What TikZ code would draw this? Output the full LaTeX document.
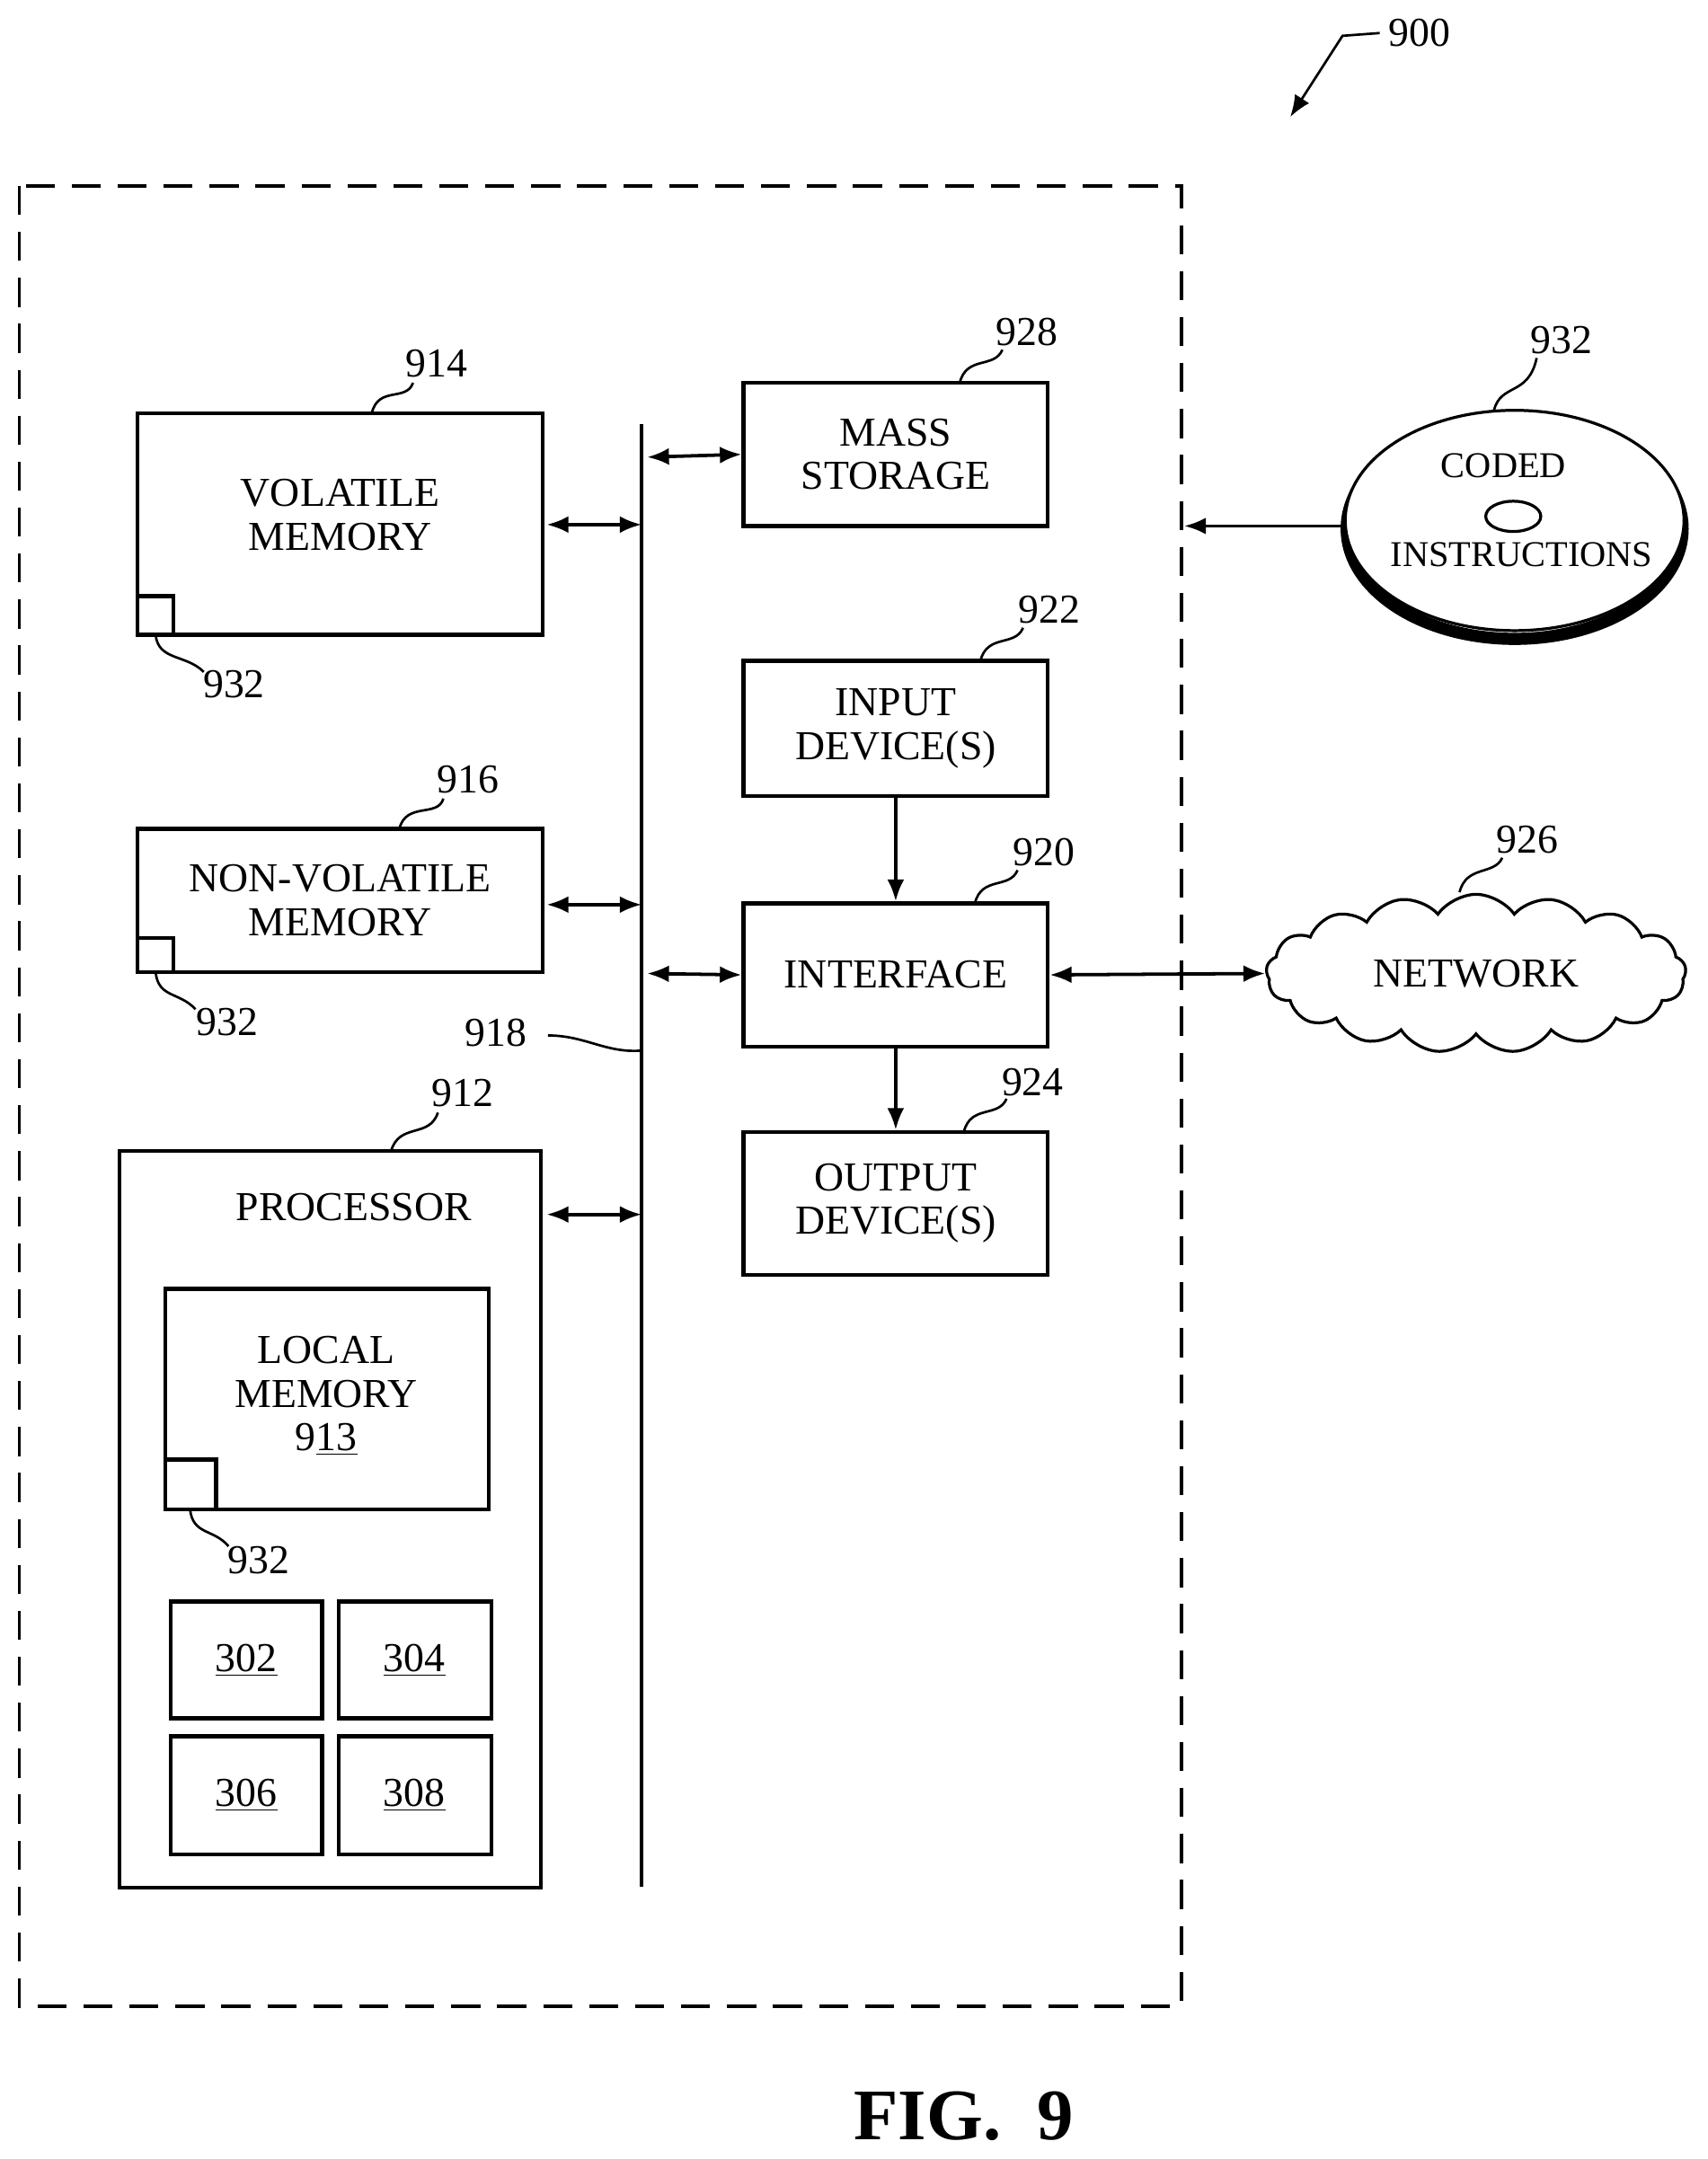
\documentclass[tikz,border=0pt]{standalone}
\usepackage{fontspec}
\setmainfont{Liberation Serif}
\usetikzlibrary{arrows.meta,shapes.symbols,shapes.geometric}
\begin{document}
\begin{tikzpicture}[x=0.02cm,y=-0.02cm,line width=1.4pt,
  >={Latex[length=9pt,width=7pt]},
  every node/.style={font=\fontsize{17}{20}\selectfont,align=center},
  box/.style={draw,line width=1.6pt},
  lbl/.style={inner sep=1pt},
  lead/.style={line width=1pt}]
\useasboundingbox (0,0) rectangle (1240,1568);
% outer dashed frame
\draw[dash pattern=on 12pt off 7pt,line width=1.2pt] (14,135) rectangle (858,1457);
% bus
\coordinate (bt) at (466,308);
\coordinate (bb) at (466,1370);
\draw (bt) -- (bb);
% memories
\draw[box] (100,300) rectangle (394,461);
\node (vol) at (247,374) {VOLATILE\\[-2pt]MEMORY};
\draw[box] (100,433) rectangle (126,461);
\draw[box] (100,602) rectangle (394,706);
\node (nvol) at (247,654) {NON-VOLATILE\\[-2pt]MEMORY};
\draw[box] (100,681) rectangle (126,706);
% processor
\draw[box] (87,836) rectangle (393,1371);
\node (proc) at (257,877) {PROCESSOR};
\draw[box] (120,936) rectangle (355,1096);
\node (loc) at (237,1014) {LOCAL\\[-2pt]MEMORY\\[-2pt]9\underline{13}};
\draw[box] (120,1060) rectangle (157,1096);
\draw[box] (124,1163) rectangle (234,1248);
\node (c302) at (179,1206) {\underline{302}};
\draw[box] (246,1163) rectangle (357,1248);
\node (c304) at (301,1206) {\underline{304}};
\draw[box] (124,1261) rectangle (234,1347);
\node (c306) at (179,1304) {\underline{306}};
\draw[box] (246,1261) rectangle (357,1347);
\node (c308) at (301,1304) {\underline{308}};
% right column
\node[box,minimum width=4.42cm,minimum height=2.08cm] (mass) at (650.5,330) {MASS\\[-2pt]STORAGE};
\node[box,minimum width=4.42cm,minimum height=1.96cm] (inp) at (650.5,529) {INPUT\\[-2pt]DEVICE(S)};
\node[box,minimum width=4.42cm,minimum height=2.08cm] (intf) at (650.5,708) {INTERFACE};
\node[box,minimum width=4.42cm,minimum height=2.08cm] (outp) at (650.5,874) {OUTPUT\\[-2pt]DEVICE(S)};
\node[cloud,draw,cloud puffs=17,cloud puff arc=110,aspect=2.8,minimum width=6.1cm,minimum height=2.3cm,line width=1.2pt] (net) at (1072,707) {NETWORK};
% disc
\draw[line width=5pt] (1100,384) ellipse (122 and 80);
\draw[fill=white,line width=1.2pt] (1100,378) ellipse (123 and 80);
\draw[line width=1.2pt] (1099,375) ellipse (20 and 11);
\node[font=\fontsize{15}{17}\selectfont] (coded) at (1092,338) {CODED};
\node[font=\fontsize{15}{17}\selectfont] (instr) at (1105,403) {INSTRUCTIONS};
\coordinate (dl) at (977,382);
\coordinate (fr) at (860,382);
\draw[->] (dl) -- (fr);
% connectors
\draw[<->] (397,381) -- (466,381);
\draw[<->] (397,657) -- (466,657);
\draw[<->] (397,882) -- (466,882);
\draw[<->] (470,332) -- (mass.west);
\draw[<->] (470,707) -- (intf.west);
\draw[->] (inp) -- (intf);
\draw[->] (intf) -- (outp);
\draw[<->] (intf.east) -- (net.west);
% reference labels
\node[lbl] (l914) at (317,264) {914};
\draw[lead] (270,300) .. controls (275,280) and (295,292) .. (300,278);
\node[lbl] (l916) at (340,566) {916};
\draw[lead] (290,602) .. controls (295,582) and (318,594) .. (322,580);
\node[lbl] (l912) at (336,794) {912};
\draw[lead] (284,836) .. controls (290,815) and (312,827) .. (318,808);
\node[lbl] (l932a) at (170,497) {932};
\draw[lead] (113,461) .. controls (115,480) and (135,475) .. (148,488);
\node[lbl] (l932b) at (165,742) {932};
\draw[lead] (113,706) .. controls (115,725) and (130,720) .. (142,733);
\node[lbl] (l932c) at (188,1133) {932};
\draw[lead] (138,1096) .. controls (140,1115) and (155,1110) .. (166,1123);
\node[lbl] (l918) at (360,750) {918};
\draw[lead] (398,752) .. controls (425,752) and (440,765) .. (466,763);
\node[lbl] (l928) at (746,241) {928};
\draw[lead] (697,278) .. controls (702,258) and (722,268) .. (728,254);
\node[lbl] (l922) at (762,443) {922};
\draw[lead] (712,480) .. controls (717,460) and (737,470) .. (743,456);
\node[lbl] (l920) at (758,619) {920};
\draw[lead] (708,656) .. controls (713,636) and (733,646) .. (739,632);
\node[lbl] (l924) at (750,786) {924};
\draw[lead] (700,822) .. controls (705,802) and (725,812) .. (731,798);
\node[lbl] (l926) at (1109,610) {926};
\draw[lead] (1060,648) .. controls (1065,628) and (1085,636) .. (1091,623);
\node[lbl] (l932d) at (1134,247) {932};
\draw[lead] (1085,298) .. controls (1090,278) and (1110,288) .. (1116,260);
\node[lbl] (l900) at (1031,24) {900};
\coordinate (a900) at (937,85);
\draw[lead,->] (1002,24) -- (975,26) -- (a900);
\node[font=\fontsize{30}{34}\selectfont\bfseries] (fig) at (700,1537) {FIG.\ \ 9};
\end{tikzpicture}
\end{document}
